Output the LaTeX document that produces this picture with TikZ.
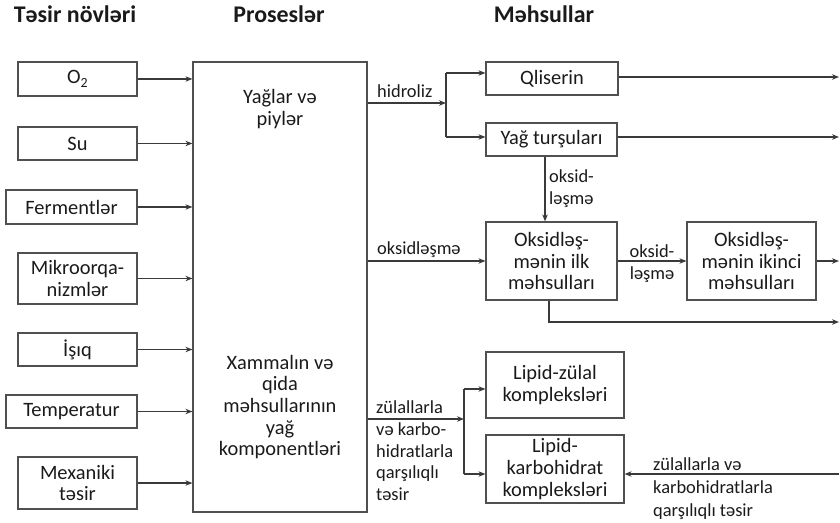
\documentclass[tikz,border=0pt]{standalone}
\usepackage{fontspec}
\setmainfont{Carlito}
\usetikzlibrary{arrows.meta}
\definecolor{linegray}{HTML}{3A3A3A}
\definecolor{boxgray}{HTML}{505050}
\definecolor{txt}{HTML}{1A1A1A}
\begin{document}
\begin{tikzpicture}[x=1bp,y=-1bp,
  box/.style={draw=boxgray, line width=1.2bp, align=center, inner sep=0pt, text=txt,
    font=\fontsize{20.5}{21.7}\selectfont},
  btext/.style={align=center, inner sep=0pt, text=txt, font=\fontsize{20.5}{21.7}\selectfont},
  conn/.style={draw=linegray, line width=1.2bp, -{Stealth[length=7bp,width=5.5bp]}},
  plain/.style={draw=linegray, line width=1.2bp},
  lbl/.style={font=\fontsize{18.5}{22}\selectfont, inner sep=0pt, align=left, text=txt},
  hdr/.style={font=\fontsize{24}{26}\selectfont\bfseries, inner sep=0pt, text=txt}]
\useasboundingbox (0,0) rectangle (840,523);

% headers
\node[hdr, anchor=base] (h1) at (75,23) {Təsir növləri};
\node[hdr, anchor=base] (h2) at (279,23) {Proseslər};
\node[hdr, anchor=base] (h3) at (544,23) {Məhsullar};

% left column
\node[box, minimum width=119bp, minimum height=34bp] (o2) at (77.5,79) {O\raisebox{-0.35ex}{\fontsize{14}{14}\selectfont 2}};
\node[box, minimum width=119bp, minimum height=33bp] (su) at (77.5,143.5) {Su};
\node[box, minimum width=131bp, minimum height=34bp] (fer) at (71.5,207) {Fermentlər};
\node[box, minimum width=119bp, minimum height=51bp] (mik) at (77.5,278.5) {Mikroorqa-\\nizmlər};
\node[box, minimum width=119bp, minimum height=33bp] (isq) at (77.5,349.5) {İşıq};
\node[box, minimum width=131bp, minimum height=33bp] (tem) at (71.5,411.5) {Temperatur};
\node[box, minimum width=119bp, minimum height=52bp] (mex) at (77.5,483) {Mexaniki\\təsir};

% process box
\node[box, minimum width=174bp, minimum height=450bp] (proc) at (280,287) {};
\node[btext] (p1) at (280,109) {Yağlar və\\piylər};
\node[btext] (p2) at (280,407) {Xammalın və\\qida\\məhsullarının\\yağ\\komponentləri};

\foreach \n in {o2,su,fer,mik,isq,tem,mex}
  \draw[conn] (\n.east) -- (\n.east -| proc.west);

% products
\node[box, minimum width=132bp, minimum height=33bp] (ql) at (552,78.5) {Qliserin};
\node[box, minimum width=131bp, minimum height=33bp] (yt) at (551.5,139.5) {Yağ turşuları};
\node[box, minimum width=131bp, minimum height=78bp] (ok1) at (551.5,261) {Oksidləş-\\mənin ilk\\məhsulları};
\node[box, minimum width=129bp, minimum height=78bp] (ok2) at (751.5,261) {Oksidləş-\\mənin ikinci\\məhsulları};
\node[box, minimum width=138bp, minimum height=66bp] (lz) at (555,385) {Lipid-zülal\\kompleksləri};
\node[box, minimum width=138bp, minimum height=68bp] (lk) at (555,469) {Lipid-\\karbohidrat\\kompleksləri};

% hydrolysis
\coordinate (hs) at (446,103);
\draw[conn] (proc.east |- hs) -- (hs);
\draw[plain] (hs |- 0,73) -- (hs |- 0,137);
\draw[conn] (hs |- 0,73) -- (ql.west |- 0,73);
\draw[conn] (hs |- 0,137) -- (yt.west |- 0,137);
\node[lbl, anchor=base west] (lh) at (377,98) {hidroliz};

\coordinate (qe) at (839,77);
\coordinate (ye) at (839,137);
\draw[conn] (ql.east |- qe) -- (qe);
\draw[conn] (yt.east |- ye) -- (ye);

% oxidation from fatty acids
\draw[conn] (yt.south -| 545,0) -- (ok1.north -| 545,0);
\node[lbl, anchor=west] (lo1) at (549,189) {oksid-\\ləşmə};

% oxidation from process
\draw[conn] (proc.east |- ok1.west) -- (ok1.west);
\node[lbl, anchor=base west] (lo2) at (377,255) {oksidləşmə};

\draw[conn] (ok1.east) -- (ok2.west);
\node[lbl, anchor=base] (lo3) at (652,258) {oksid-};
\node[lbl, anchor=base] (lo4) at (652,280) {ləşmə};

\coordinate (o2e) at (839,261);
\draw[conn] (ok2.east) -- (o2e);
\coordinate (o1e) at (839,322);
\draw[conn] (ok1.south -| 549,0) |- (o1e);

% interaction
\coordinate (zs) at (464,419);
\draw[conn] (proc.east |- zs) -- (zs);
\draw[plain] (zs |- 0,389) -- (zs |- 0,474);
\draw[conn] (zs |- 0,389) -- (lz.west |- 0,389);
\draw[conn] (zs |- 0,474) -- (lk.west |- 0,474);
\node[lbl, anchor=north west, align=left, font=\fontsize{18.5}{21.7}\selectfont] (lz1) at (376,401) {zülallarla\\və karbo-\\hidratlarla\\qarşılıqlı\\təsir};

\coordinate (ze) at (839,474);
\draw[conn] (ze) -- (lk.east |- ze);
\node[lbl, anchor=north west, align=left, font=\fontsize{18.5}{23}\selectfont] (lz2) at (653,458) {zülallarla və\\karbohidratlarla\\qarşılıqlı təsir};
\end{tikzpicture}
\end{document}
